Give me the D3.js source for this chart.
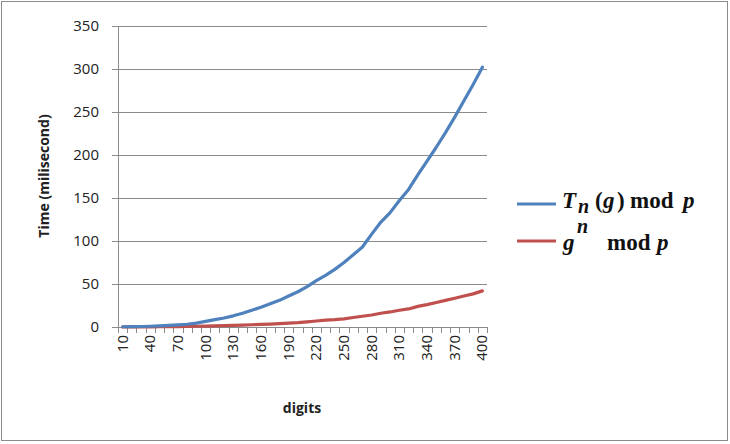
<!DOCTYPE html>
<html>
<head>
<meta charset="utf-8">
<script src="https://cdn.jsdelivr.net/npm/d3@7"></script>
<style>
  body { margin: 0; background: #fff; }
  svg { display: block; }
</style>
</head>
<body>
<svg width="730" height="444"></svg>
<script>
const digits = d3.range(10, 401, 10);
const tnTimes = [0.3, 0.4, 0.6, 0.9, 1.3, 1.8, 2.4, 3.2, 4.5, 6.5,
  8.5, 10.5, 13, 16, 19.5, 23, 27, 31, 36, 41,
  47, 54, 60, 67, 75, 84, 93, 108, 122, 133,
  147, 160, 177, 193, 209, 226, 244, 263, 282, 302];
const powTimes = [0, 0.1, 0.1, 0.2, 0.3, 0.4, 0.5, 0.7, 0.9, 1.1,
  1.3, 1.6, 1.9, 2.2, 2.6, 3, 3.4, 3.9, 4.4, 5,
  6, 7, 8, 8.5, 9.5, 11, 12.5, 14, 16, 17.5,
  19.5, 21, 24, 26, 28.5, 31, 33.5, 36, 38.5, 42];
const yTicks = [0, 50, 100, 150, 200, 250, 300, 350];

const svg = d3.select("svg");
const font = "Open Sans";

svg.append("rect")
  .attr("x", 1.5).attr("y", 1.5)
  .attr("width", 726).attr("height", 439)
  .attr("fill", "#fff")
  .attr("stroke", "#8c8c8c");

const plotLeft = 118, plotRight = 487, plotTop = 26, plotBottom = 327;

const x = d3.scaleBand()
  .domain(digits)
  .range([plotLeft, plotRight]);

const y = d3.scaleLinear()
  .domain([0, 350])
  .range([plotBottom, plotTop]);

// grid lines
svg.append("g")
  .selectAll("line")
  .data(yTicks)
  .join("line")
    .attr("x1", plotLeft - 6)
    .attr("x2", plotRight)
    .attr("y1", d => Math.round(y(d)) + 0.5)
    .attr("y2", d => Math.round(y(d)) + 0.5)
    .attr("stroke", "#8a8a8a");

// y axis line
svg.append("line")
  .attr("x1", plotLeft + 0.5).attr("x2", plotLeft + 0.5)
  .attr("y1", plotTop).attr("y2", plotBottom)
  .attr("stroke", "#8a8a8a");

// x tick marks at band edges
svg.append("g")
  .selectAll("line")
  .data(digits.concat(["end"]))
  .join("line")
    .attr("x1", d => Math.round(d === "end" ? plotRight : x(d)) + 0.5)
    .attr("x2", d => Math.round(d === "end" ? plotRight : x(d)) + 0.5)
    .attr("y1", plotBottom)
    .attr("y2", plotBottom + 6)
    .attr("stroke", "#8a8a8a");

// y labels
svg.append("g")
  .selectAll("text")
  .data(yTicks)
  .join("text")
    .attr("x", 99)
    .attr("y", d => y(d) + 5)
    .attr("text-anchor", "end")
    .style("font-family", font)
    .style("font-size", "15px")
    .attr("fill", "#222")
    .text(d => d);

// x labels, every third category
svg.append("g")
  .selectAll("text")
  .data(digits.filter((d, i) => i % 3 === 0))
  .join("text")
    .attr("transform", d => `translate(${x(d) + x.bandwidth() / 2 + 5}, 335) rotate(-90)`)
    .attr("text-anchor", "end")
    .style("font-family", font)
    .style("font-size", "15px")
    .attr("fill", "#222")
    .text(d => d);

// axis titles
svg.append("text")
  .attr("transform", "translate(49, 176) rotate(-90)")
  .attr("text-anchor", "middle")
  .style("font-family", font)
  .style("font-size", "14px")
  .style("font-weight", "bold")
  .attr("fill", "#222")
  .text("Time (milisecond)");

svg.append("text")
  .attr("x", 302).attr("y", 413)
  .attr("text-anchor", "middle")
  .style("font-family", font)
  .style("font-size", "14px")
  .style("font-weight", "bold")
  .attr("fill", "#222")
  .text("digits");

// series lines
const line = values => d3.line()
  .x((d, i) => x(digits[i]) + x.bandwidth() / 2)
  .y(d => y(d))(values);

const series = [
  { values: tnTimes, color: "#4f81bd" },
  { values: powTimes, color: "#c0504d" }
];

svg.append("g")
  .selectAll("path")
  .data(series.slice().reverse())
  .join("path")
    .attr("d", d => line(d.values))
    .attr("fill", "none")
    .attr("stroke", d => d.color)
    .attr("stroke-width", 3.2)
    .attr("stroke-linejoin", "round")
    .attr("stroke-linecap", "round");

// legend
svg.append("line")
  .attr("x1", 517).attr("x2", 556)
  .attr("y1", 204).attr("y2", 204)
  .attr("stroke", "#4f81bd").attr("stroke-width", 3);
svg.append("line")
  .attr("x1", 517).attr("x2", 556)
  .attr("y1", 241).attr("y2", 241)
  .attr("stroke", "#c0504d").attr("stroke-width", 3);

// each piece of the math labels is its own text element
const legendParts = [
  ["T", 562, 208, true, 23], ["n", 578, 213, true, 20], ["(", 595, 208, false, 23],
  ["g", 603, 208, true, 23], [")", 617, 208, false, 23], ["mod", 630, 208, false, 23],
  ["p", 683, 208, true, 23],
  ["g", 563, 250, true, 23], ["n", 577, 233, true, 20], ["mod", 607, 250, false, 23],
  ["p", 657, 250, true, 23]
];

svg.append("g")
  .selectAll("text")
  .data(legendParts)
  .join("text")
    .attr("x", d => d[1])
    .attr("y", d => d[2])
    .style("font-family", "Liberation Serif")
    .style("font-weight", "bold")
    .style("font-style", d => d[3] ? "italic" : "normal")
    .style("font-size", d => d[4] + "px")
    .attr("fill", "#111")
    .text(d => d[0]);
</script>
</body>
</html>
